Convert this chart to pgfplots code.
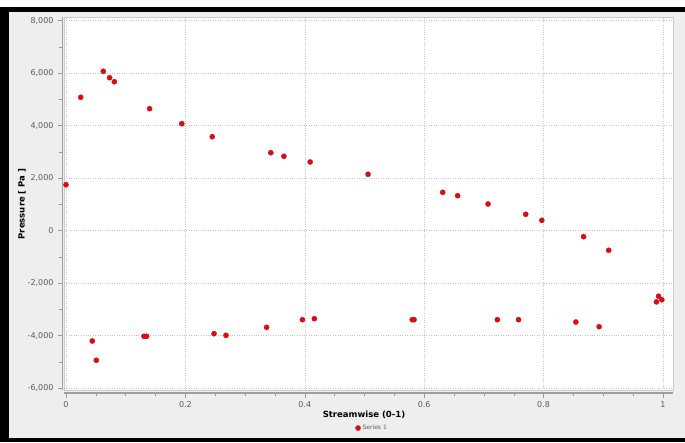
\documentclass[border=0pt]{standalone}
\usepackage{fontspec}
\setmainfont{DejaVu Sans}
\usepackage{pgfplots}
\pgfplotsset{compat=1.18}
\definecolor{bggray}{HTML}{EEEEEE}
\definecolor{ptred}{HTML}{DD0A14}
\definecolor{ticktxt}{HTML}{5A5A5A}
\begin{document}
\begin{tikzpicture}[x=1pt,y=1pt]
\fill[white] (0,0) rectangle (685,442);
\fill[bggray] (0,0) rectangle (685,430);
\fill[black] (0,430) rectangle (685,435);
\fill[black] (0,0) rectangle (9,435);
\fill[black] (0,0) rectangle (685,4);
\begin{axis}[
  at={(64pt,52pt)}, anchor=south west,
  scale only axis, width=609pt, height=373pt,
  xmin=-0.00335, xmax=1.01675,
  ymin=-6066, ymax=8138,
  axis x line=bottom, axis y line=left,
  axis x line shift=3pt, axis y line shift=1.5pt,
  axis line style={-, draw=gray!75, line width=1.1pt},
  axis background/.style={fill=white, draw=gray!40, line width=0.6pt},
  xtick={0,0.2,0.4,0.6,0.8,1},
  xticklabels={0,0.2,0.4,0.6,0.8,1},
  ytick={-6000,-4000,-2000,0,2000,4000,6000,8000},
  minor x tick num=3, minor y tick num=1,
  tick align=outside,
  major tick length=4.5pt, minor tick length=3pt,
  tick style={draw=gray!80, line width=0.5pt},
  grid=major,
  major grid style={dotted, draw=gray!45, line width=0.6pt},
  /pgf/number format/1000 sep={,},
  /pgf/number format/assume math mode=true,
  tick label style={font=\fontsize{8}{9}\selectfont, text=ticktxt},
  yticklabel style={xshift=-1pt},
  xticklabel style={yshift=-1pt},
  xlabel={Streamwise (0-1)},
  ylabel={Pressure [ Pa ]},
  xlabel style={at={(axis description cs:0.4926,-0.067)}, anchor=center, font=\fontsize{8.5}{10}\selectfont\bfseries},
  ylabel style={at={(axis description cs:-0.069,0.4987)}, anchor=center, rotate=0, font=\fontsize{8.5}{10}\selectfont\bfseries},
  legend style={at={(axis description cs:0.506,-0.102)}, anchor=center, draw=none, fill=none,
    font=\fontsize{6}{7}\selectfont\color{ticktxt}, inner sep=0pt},
  legend cell align=left,
]
\addplot[only marks, color=ptred, mark=*, mark size=2.6pt, mark options={solid, draw=ptred, fill=ptred, line width=0.3pt}] coordinates {
(0, 1750)
(0.0246, 5080)
(0.044, -4200)
(0.0508, -4935)
(0.0625, 6070)
(0.073, 5826)
(0.081, 5674)
(0.1307, -4021)
(0.135, -4021)
(0.140, 4646)
(0.194, 4075)
(0.245, 3580)
(0.248, -3922)
(0.268, -3984)
(0.336, -3680)
(0.343, 2970)
(0.365, 2833)
(0.396, -3389)
(0.409, 2616)
(0.416, -3351)
(0.506, 2148)
(0.580, -3389)
(0.583, -3389)
(0.631, 1462)
(0.656, 1333)
(0.707, 1017)
(0.7225, -3389)
(0.758, -3389)
(0.770, 624)
(0.797, 396)
(0.854, -3477)
(0.867, -228)
(0.893, -3656)
(0.909, -746)
(0.989, -2710)
(0.9925, -2495)
(0.998, -2630)
};
\addlegendentry{Series 1}
\end{axis}
\end{tikzpicture}
\end{document}
